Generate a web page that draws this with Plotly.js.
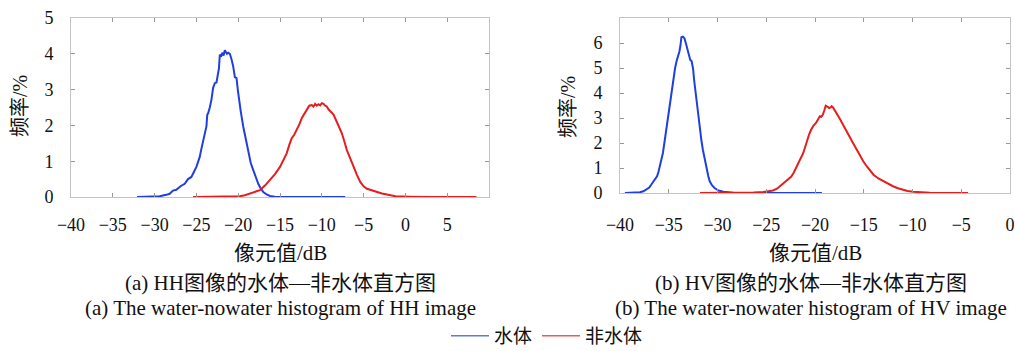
<!DOCTYPE html>
<html>
<head>
<meta charset="utf-8">
<script src="https://cdn.plot.ly/plotly-3.0.1.min.js"></script>
<style>html,body{margin:0;padding:0;background:#fff;}#chart{width:1015px;height:351px;}</style>
</head>
<body>
<div id="chart"></div>
<script>
// ---- data ----
const seriesNames = ["水体", "非水体"];
const hhWaterX = [-32.1, -30.5, -29.4, -28.6, -28.2, -27.8, -27.4, -26.9, -26.4, -26.0, -25.6, -25.3, -25.0, -24.8, -24.6, -24.4, -24.2, -24.0, -23.8, -23.7, -23.6, -23.4, -23.2, -23.0, -22.8, -22.6, -22.4, -22.3, -22.2, -22.05, -21.9, -21.75, -21.6, -21.5, -21.35, -21.2, -21.0, -20.8, -20.6, -20.4, -20.2, -20.05, -19.9, -19.7, -19.4, -19.1, -18.8, -18.5, -18.2, -17.9, -17.6, -17.3, -17.0, -16.6, -16.2, -15.6, -14.0, -7.2];
const hhWaterY = [0, 0.01, 0.02, 0.06, 0.09, 0.18, 0.2, 0.3, 0.37, 0.5, 0.56, 0.7, 0.84, 0.98, 1.12, 1.35, 1.59, 1.75, 1.97, 2.3, 2.34, 2.5, 2.72, 3.05, 3.18, 3.2, 3.56, 3.6, 3.98, 3.92, 4.03, 3.95, 4.1, 4.06, 4.0, 4.03, 4.0, 3.85, 3.65, 3.35, 3.32, 3.0, 2.72, 2.4, 1.97, 1.6, 1.22, 0.95, 0.75, 0.55, 0.37, 0.24, 0.14, 0.07, 0.03, 0.01, 0, 0];
const hhLandX = [-25.4, -22.0, -20.5, -19.8, -19.2, -18.6, -18.0, -17.4, -16.8, -16.2, -15.6, -15.0, -14.6, -14.2, -13.9, -13.6, -13.3, -13.0, -12.7, -12.4, -12.1, -11.8, -11.5, -11.2, -11.0, -10.8, -10.6, -10.4, -10.2, -10.0, -9.8, -9.6, -9.4, -9.2, -9.0, -8.8, -8.6, -8.4, -8.2, -7.9, -7.6, -7.3, -7.0, -6.6, -6.2, -5.8, -5.4, -5.0, -4.6, -4.0, -3.4, -2.8, -2.2, -1.7, -1.2, 0.5, 3.0, 8.5];
const hhLandY = [0, 0, 0.01, 0.02, 0.05, 0.09, 0.14, 0.19, 0.32, 0.47, 0.64, 0.84, 1.02, 1.22, 1.45, 1.64, 1.74, 1.86, 2.02, 2.2, 2.33, 2.43, 2.55, 2.57, 2.53, 2.6, 2.55, 2.59, 2.56, 2.62, 2.6, 2.55, 2.53, 2.45, 2.4, 2.34, 2.3, 2.2, 2.1, 1.95, 1.78, 1.55, 1.31, 1.08, 0.84, 0.62, 0.42, 0.3, 0.23, 0.18, 0.14, 0.1, 0.07, 0.04, 0.02, 0.01, 0, 0];
const hvWaterX = [-39.5, -38.5, -37.95, -37.6, -37.3, -37.0, -36.8, -36.5, -36.2, -36.05, -35.9, -35.75, -35.6, -35.45, -35.3, -35.1, -34.9, -34.7, -34.5, -34.35, -34.2, -34.05, -33.9, -33.8, -33.7, -33.55, -33.4, -33.25, -33.1, -32.95, -32.8, -32.65, -32.5, -32.4, -32.25, -32.1, -31.95, -31.8, -31.65, -31.5, -31.3, -31.1, -30.95, -30.8, -30.55, -30.3, -29.9, -29.4, -28.4, -27.0, -19.3];
const hvWaterY = [0, 0.01, 0.03, 0.07, 0.13, 0.22, 0.33, 0.48, 0.67, 0.85, 1.07, 1.3, 1.6, 2.0, 2.4, 2.95, 3.47, 4.15, 4.67, 5.0, 5.27, 5.45, 5.67, 5.9, 6.23, 6.25, 6.2, 6.0, 5.73, 5.5, 5.33, 5.27, 4.95, 4.53, 4.0, 3.47, 3.0, 2.53, 2.1, 1.73, 1.3, 0.93, 0.68, 0.47, 0.3, 0.2, 0.1, 0.05, 0.01, 0, 0];
const hvLandX = [-31.8, -28.5, -27.4, -26.3, -25.3, -24.8, -24.3, -23.9, -23.6, -23.2, -22.75, -22.45, -22.2, -21.95, -21.7, -21.45, -21.2, -21.0, -20.8, -20.6, -20.4, -20.15, -19.9, -19.7, -19.5, -19.35, -19.2, -19.05, -18.9, -18.7, -18.55, -18.4, -18.3, -18.15, -18.0, -17.75, -17.5, -17.15, -16.8, -16.45, -16.1, -15.75, -15.4, -15.05, -14.7, -14.35, -14.0, -13.5, -13.0, -12.5, -12.0, -11.5, -11.0, -10.5, -9.95, -9.0, -8.2, -6.0, -4.3];
const hvLandY = [0, 0, 0.01, 0.02, 0.04, 0.06, 0.1, 0.17, 0.27, 0.38, 0.53, 0.65, 0.8, 1.0, 1.2, 1.38, 1.6, 1.85, 2.13, 2.35, 2.53, 2.7, 2.8, 2.95, 3.07, 3.05, 3.13, 3.3, 3.49, 3.45, 3.4, 3.42, 3.47, 3.42, 3.33, 3.2, 3.0, 2.75, 2.47, 2.25, 2.0, 1.75, 1.47, 1.27, 1.07, 0.9, 0.73, 0.58, 0.47, 0.36, 0.27, 0.19, 0.13, 0.08, 0.05, 0.02, 0.01, 0, 0];
const leftXTicks = [-40, -35, -30, -25, -20, -15, -10, -5, 0, 5];
const leftYTicks = [0, 1, 2, 3, 4, 5];
const rightXTicks = [-40, -35, -30, -25, -20, -15, -10, -5, 0];
const rightYTicks = [0, 1, 2, 3, 4, 5, 6];
const yTitle = "频率/%";
const xTitle = "像元值/dB";
const captionsA = ["(a) HH图像的水体—非水体直方图", "(a) The water-nowater histogram of HH image"];
const captionsB = ["(b) HV图像的水体—非水体直方图", "(b) The water-nowater histogram of HV image"];

// ---- style ----
const W = 1015, H = 351;
const BLUE = "#1f3fe0", RED = "#e51d1d";
const LEG_BLUE = "#5f78e6", LEG_RED = "#ec5a5a";
const SERIF = "Liberation Serif, Noto Sans CJK SC, serif";
const SANS = "Noto Sans CJK SC, Noto Sans, sans-serif";
const px = v => v / W;
const py = v => 1 - v / H;

const traces = [
  {x: hhWaterX, y: hhWaterY, xaxis: "x", yaxis: "y", name: seriesNames[0], mode: "lines", line: {color: BLUE, width: 2}, showlegend: false},
  {x: hhLandX, y: hhLandY, xaxis: "x", yaxis: "y", name: seriesNames[1], mode: "lines", line: {color: RED, width: 2}, showlegend: false},
  {x: hvWaterX, y: hvWaterY, xaxis: "x2", yaxis: "y2", name: seriesNames[0], mode: "lines", line: {color: BLUE, width: 2}, showlegend: false},
  {x: hvLandX, y: hvLandY, xaxis: "x2", yaxis: "y2", name: seriesNames[1], mode: "lines", line: {color: RED, width: 2}, showlegend: false},
  // legend entries
  {x: [null], y: [null], xaxis: "x", yaxis: "y", name: seriesNames[0], mode: "lines", line: {color: LEG_BLUE, width: 1.5}, showlegend: true},
  {x: [null], y: [null], xaxis: "x", yaxis: "y", name: seriesNames[1], mode: "lines", line: {color: LEG_RED, width: 1.5}, showlegend: true}
];

const axBase = {
  showgrid: false, zeroline: false, showline: true, linecolor: "#c4c4c4", linewidth: 1,
  mirror: "ticks", ticks: "inside", ticklen: 4, tickcolor: "#999", tickwidth: 1,
  tickfont: {family: "Liberation Serif", size: 18, color: "#111"}, fixedrange: true, automargin: false
};

function ann(text, x, y, size, family, angle) {
  return {text: text, x: px(x), y: py(y), xref: "paper", yref: "paper", showarrow: false,
    xanchor: "center", yanchor: "middle", textangle: angle || 0,
    font: {family: family, size: size, color: "#111"}};
}

const layout = {
  width: W, height: H, margin: {l: 0, r: 0, t: 0, b: 0, autoexpand: false},
  paper_bgcolor: "#fff", plot_bgcolor: "#fff",
  xaxis: Object.assign({}, axBase, {domain: [px(71), px(489)], range: [-40, 10], tickvals: leftXTicks, ticklabelstandoff: 11, anchor: "y"}),
  yaxis: Object.assign({}, axBase, {domain: [py(197), py(18)], range: [0, 5], tickvals: leftYTicks, ticklabelstandoff: 13, anchor: "x"}),
  xaxis2: Object.assign({}, axBase, {domain: [px(620), px(1010)], range: [-40, 0], tickvals: rightXTicks, ticklabelstandoff: 15, anchor: "y2"}),
  yaxis2: Object.assign({}, axBase, {domain: [py(193), py(18)], range: [0, 7], tickvals: rightYTicks, ticklabelstandoff: 13, anchor: "x2"}),
  showlegend: true,
  legend: {orientation: "h", x: px(547), y: py(336), xanchor: "center", yanchor: "middle",
    font: {family: SANS, size: 19, color: "#111"}, bgcolor: "rgba(0,0,0,0)", itemwidth: 38, tracegroupgap: 0},
  annotations: [
    ann(yTitle, 20, 106, 20, SERIF, -90),
    ann(yTitle, 568, 107, 20, SERIF, -90),
    ann(xTitle, 280, 253, 21, SERIF),
    ann(xTitle, 815, 253, 21, SERIF),
    ann(captionsA[0], 280, 283, 21, SERIF),
    ann(captionsA[1], 280, 308, 21, SERIF),
    ann(captionsB[0], 811, 283, 21, SERIF),
    ann(captionsB[1], 811, 308, 21, SERIF)
  ]
};

Plotly.newPlot("chart", traces, layout, {displayModeBar: false, staticPlot: true});
</script>
</body>
</html>
